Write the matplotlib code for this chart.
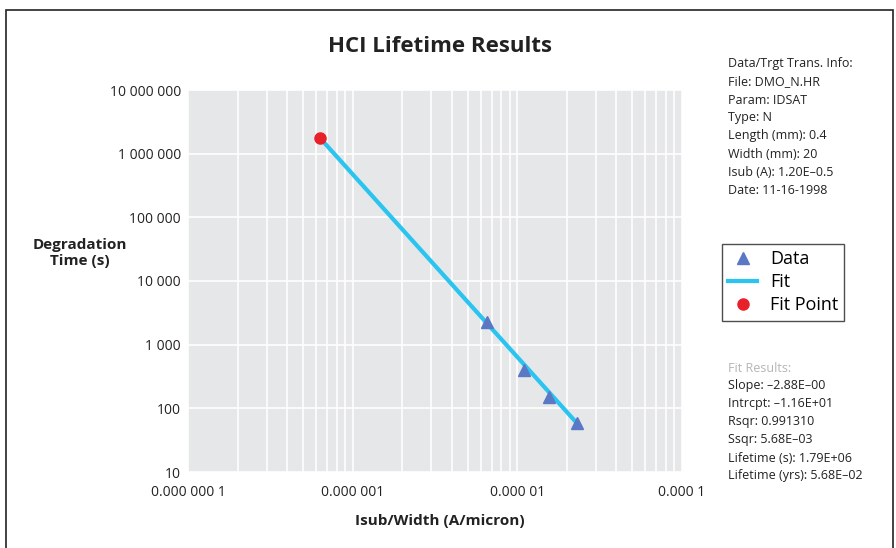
import numpy as np
import matplotlib.pyplot as plt
from matplotlib.ticker import FixedLocator, LogLocator, FuncFormatter, NullFormatter
from matplotlib.patches import Rectangle

# values
data_x = [6.5e-6, 1.1e-5, 1.56e-5, 2.31e-5]
data_y = [2280, 400, 150, 59]
fit_x = [6.3e-7, 2.35e-5]
fit_y = [1.79e6, 55]
fitpt_x = [6.3e-7]
fitpt_y = [1.79e6]

info_lines = ['Data/Trgt Trans. Info:', 'File: DMO_N.HR', 'Param: IDSAT', 'Type: N',
              'Length (mm): 0.4', 'Width (mm): 20', 'Isub (A): 1.20E\u20130.5', 'Date: 11-16-1998']
fit_lines = ['Slope: \u20132.88E\u201300', 'Intrcpt: \u20131.16E+01', 'Rsqr: 0.991310',
             'Ssqr: 5.68E\u201303', 'Lifetime (s): 1.79E+06', 'Lifetime (yrs): 5.68E\u201302']

plt.rcParams['font.family'] = ['Open Sans', 'DejaVu Sans']

fig = plt.figure(figsize=(8.96, 5.48), dpi=100)
ax = fig.add_axes([188/896, 1 - 472/548, (682 - 188)/896, (472 - 90)/548])
ax.set_facecolor('#e6e7e9')

ax.plot(fit_x, fit_y, color='#29c4f0', lw=3, label='Fit', zorder=3)
ax.plot(data_x, data_y, '^', color='#5b78c4', ms=9, ls='none', label='Data', zorder=4)
ax.plot(fitpt_x, fitpt_y, 'o', color='#e8202a', ms=8, ls='none', label='Fit Point', zorder=5)

ax.set_xscale('log')
ax.set_yscale('log')
ax.set_xlim(1e-7, 1e-4)
ax.set_ylim(10, 1e7)


def spaced(v, pos):
    if v >= 1:
        return f'{int(round(v)):,}'.replace(',', ' ')
    s = f'{v:.10f}'.rstrip('0')
    ip, fp = s.split('.')
    groups = [fp[i:i + 3] for i in range(0, len(fp), 3)]
    return ip + '.' + ' '.join(groups)


ax.xaxis.set_major_locator(FixedLocator([1e-7, 1e-6, 1e-5, 1e-4]))
ax.xaxis.set_minor_locator(LogLocator(base=10, subs=np.arange(2, 10)))
ax.xaxis.set_minor_formatter(NullFormatter())
ax.xaxis.set_major_formatter(FuncFormatter(spaced))
ax.yaxis.set_major_locator(FixedLocator([10, 100, 1e3, 1e4, 1e5, 1e6, 1e7]))
ax.yaxis.set_minor_locator(FixedLocator([]))
ax.yaxis.set_major_formatter(FuncFormatter(spaced))

ax.grid(True, which='both', axis='x', color='white', lw=1.2)
ax.grid(True, which='major', axis='y', color='white', lw=1.2)
ax.set_axisbelow(True)
ax.tick_params(which='both', length=0, labelsize=10, colors='#222222')
ax.tick_params(axis='x', pad=9)
ax.tick_params(axis='y', pad=5)
for s in ax.spines.values():
    s.set_visible(False)

fig.text(440/896, 1 - 46/548, 'HCI Lifetime Results', ha='center', va='center',
         fontsize=16, fontweight='bold', color='#222222')
fig.text(440/896, 1 - 521/548, 'Isub/Width (A/micron)', ha='center', va='center',
         fontsize=11, fontweight='bold', color='#222222')
fig.text(80/896, 1 - 253/548, 'Degradation\nTime (s)', ha='center', va='center',
         fontsize=11, fontweight='bold', color='#222222', linespacing=1.1)

for i, t in enumerate(info_lines):
    fig.text(728/896, 1 - (64 + i * 18)/548, t, ha='left', va='center', fontsize=9, color='#222222')
fig.text(728/896, 1 - 368/548, 'Fit Results:', ha='left', va='center', fontsize=9, color='#b5b5b5')
for i, t in enumerate(fit_lines):
    fig.text(728/896, 1 - (386 + i * 18)/548, t, ha='left', va='center', fontsize=9, color='#222222')

handles, labels = ax.get_legend_handles_labels()
order = [1, 0, 2]
leg = fig.legend([handles[i] for i in order], [labels[i] for i in order],
                 loc='upper left', bbox_to_anchor=(722/896, 1 - 244/548),
                 frameon=True, fancybox=False, fontsize=13, handlelength=1.6,
                 borderpad=0.35, labelspacing=0.28, handletextpad=0.7, borderaxespad=0)
leg.get_frame().set_edgecolor('#222222')
leg.get_frame().set_linewidth(1)

fig.patches.append(Rectangle((6/896, -0.05), (893 - 6)/896, 1 - 10/548 + 0.05,
                             transform=fig.transFigure, fill=False, ec='#222222', lw=1.2))

plt.savefig('out.png', dpi=100)
